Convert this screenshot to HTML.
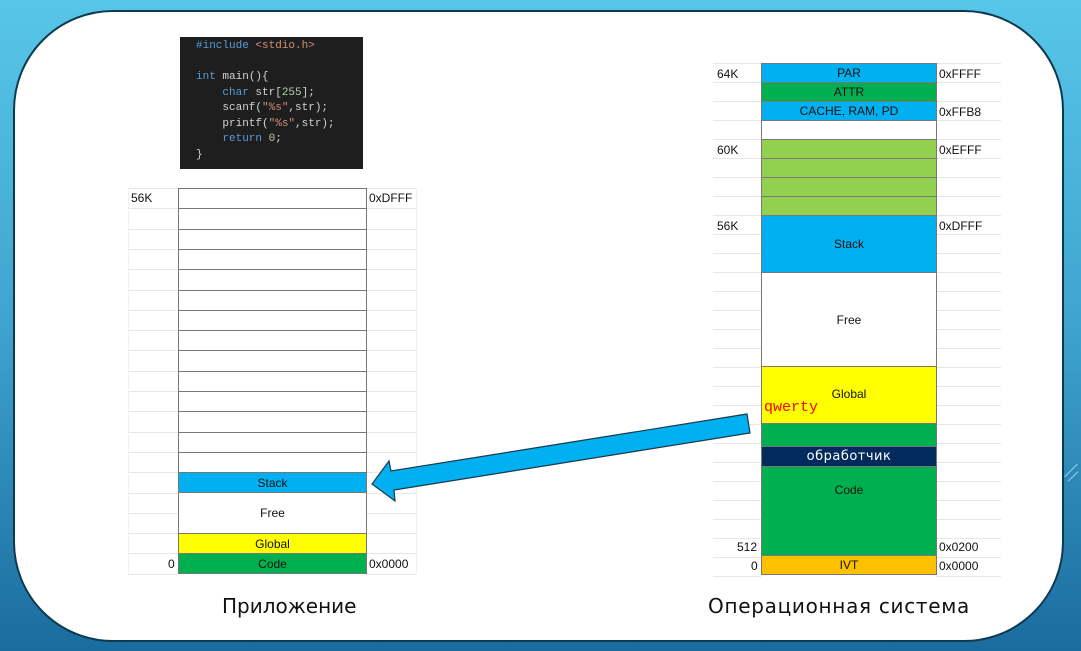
<!DOCTYPE html>
<html><head><meta charset="utf-8"><style>
*{margin:0;padding:0;box-sizing:border-box}
body{width:1081px;height:651px;overflow:hidden;position:relative;background:linear-gradient(180deg,#57c6e8 0%,#3fa3cf 50%,#1a6c9e 100%);font-family:"Liberation Sans",sans-serif}
.panel{position:absolute;left:13px;top:10px;width:1051px;height:632px;background:#fff;border:2px solid #0d3a50;border-radius:100px}
.a{position:absolute}
.c{position:absolute;display:flex;align-items:center;justify-content:center;font-size:12px;color:#111;border:1px solid #777}
.l{position:absolute;font-size:12px;color:#111}
.g{position:absolute;height:1px;background:#e6e6e6}
.v{position:absolute;width:1px;background:#f0f0f0}
.code{position:absolute;left:180px;top:37px;width:183px;height:132px;background:#1e1e1e;font-family:"Liberation Mono",monospace;font-size:11px;line-height:15.5px;color:#d4d4d4;padding:2px 0 0 16px;white-space:pre}
.k{color:#569cd6}.s{color:#ce9178}.n{color:#b5cea8}
.cap{position:absolute;top:594px;font-family:"DejaVu Sans",sans-serif;font-size:20px;color:#111}
svg{z-index:10}
</style></head><body>
<div class="panel"></div>
<div class="a" style="left:1062px;top:470px;width:18px;height:1px;background:#9fd0ea;transform:rotate(-45deg)"></div>
<div class="a" style="left:1066px;top:476px;width:14px;height:1px;background:#9fd0ea;transform:rotate(-45deg)"></div>

<div class="code"><span class="k">#include</span> <span class="s">&lt;stdio.h&gt;</span>

<span class="k">int</span> main(){
    <span class="k">char</span> str[<span class="n">255</span>];
    scanf(<span class="s">"%s"</span>,str);
    printf(<span class="s">"%s"</span>,str);
    <span class="k">return</span> <span class="n">0</span>;
}</div>

<div class="cap" style="left:222px">Приложение</div>
<div class="cap" style="left:708px;letter-spacing:0.7px">Операционная система</div>

<script>
function add(h){document.body.insertAdjacentHTML('beforeend',h)}
var y0=188,rh=20.3;
for(var i=0;i<=19;i++){var y=Math.round(y0+i*rh);add('<div class="g" style="left:128px;top:'+y+'px;width:50px"></div><div class="g" style="left:366px;top:'+y+'px;width:50px"></div>')}
add('<div class="v" style="left:128px;top:188px;height:386px"></div><div class="v" style="left:416px;top:188px;height:386px"></div>');
for(var i=0;i<14;i++){var y=Math.round(y0+i*rh);add('<div class="c" style="left:178px;top:'+y+'px;width:189px;height:'+(Math.round(y0+(i+1)*rh)-y+1)+'px;background:#fff"></div>')}
add('<div class="c" style="left:178px;top:472px;width:189px;height:21px;background:#00b0f0">Stack</div>');
add('<div class="c" style="left:178px;top:492px;width:189px;height:42px;background:#fff">Free</div>');
add('<div class="c" style="left:178px;top:533px;width:189px;height:21px;background:#ffff00">Global</div>');
add('<div class="c" style="left:178px;top:553px;width:189px;height:21px;background:#00b050">Code</div>');
add('<div class="l" style="left:131px;top:191px">56K</div><div class="l" style="left:369px;top:191px">0xDFFF</div>');
add('<div class="l" style="left:168px;top:557px">0</div><div class="l" style="left:369px;top:557px">0x0000</div>');
var r0=63,rr=19.0;
for(var i=0;i<=27;i++){var y=Math.round(r0+i*rr);add('<div class="g" style="left:713px;top:'+y+'px;width:48px"></div><div class="g" style="left:936px;top:'+y+'px;width:65px"></div>')}
function rb(t,b,bg,txt,col,fs){add('<div class="c" style="left:761px;top:'+t+'px;width:176px;height:'+(b-t+1)+'px;background:'+bg+';color:'+(col||'#111')+';'+(fs||'')+'">'+(txt||'')+'</div>')}
rb(63,82,'#00b0f0','PAR');rb(82,101,'#00b050','ATTR');rb(101,120,'#00b0f0','CACHE, RAM, PD');rb(120,139,'#fff');
rb(139,158,'#92d050');rb(158,177,'#92d050');rb(177,196,'#92d050');rb(196,215,'#92d050');
rb(215,272,'#00b0f0','Stack');rb(272,366,'#fff','Free');
add('<div class="c" style="left:761px;top:366px;width:176px;height:58px;background:#ffff00;align-items:flex-start;padding-top:20px">Global</div>');
add('<div class="a" style="left:764px;top:399px;font-family:\'Liberation Mono\',monospace;font-size:15px;color:#ff0000">qwerty</div>');
rb(423,446,'#00b050');rb(446,466,'#002b5c','обработчик','#fff','font-size:13px;letter-spacing:0.5px;font-family:DejaVu Sans,sans-serif;');
add('<div class="c" style="left:761px;top:466px;width:176px;height:90px;background:#00b050;align-items:flex-start;padding-top:16px">Code</div>');
rb(555,574,'#ffc000','IVT');
var L=[[67,'64K','0xFFFF'],[143,'60K','0xEFFF'],[219,'56K','0xDFFF'],[105,'','0xFFB8']];
L.forEach(function(a){add('<div class="l" style="left:717px;top:'+a[0]+'px">'+a[1]+'</div><div class="l" style="left:939px;top:'+a[0]+'px">'+a[2]+'</div>')});
add('<div class="l" style="left:737px;top:540px">512</div><div class="l" style="left:939px;top:540px">0x0200</div>');
add('<div class="l" style="left:751px;top:559px">0</div><div class="l" style="left:939px;top:559px">0x0000</div>');
add('<svg class="a" style="left:0;top:0" width="1081" height="651"><polygon points="372,484 389,461 391,471 747,414 750,433 394,490 395,501" fill="#00b0f0" stroke="#1a3a4a" stroke-width="1.2"/></svg>');
</script>
</body></html>
